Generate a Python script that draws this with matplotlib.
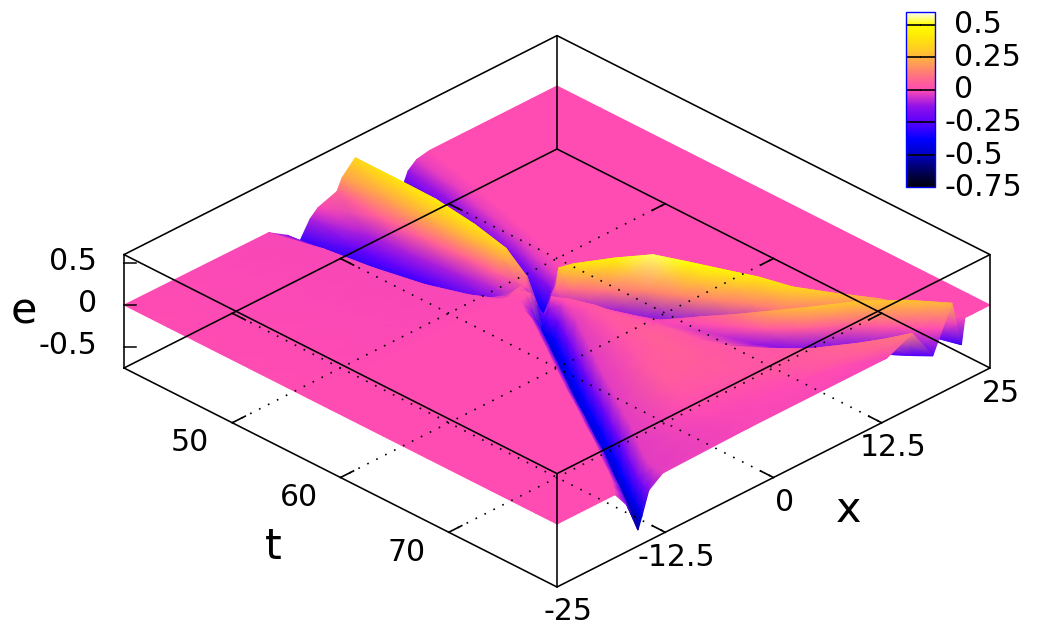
#!/usr/bin/env python
import numpy as np
import matplotlib
matplotlib.use("Agg")
import matplotlib.pyplot as plt
from matplotlib.colors import LinearSegmentedColormap, Normalize

### data: one row per t, knots in x follow the moving features
t_rows = [40, 44, 48, 52, 55, 57, 58, 58.4, 59, 60, 62, 64, 66, 68, 70, 72, 74, 76, 78, 79, 80]

x_knots = [
    [-25, -8.3, -6.2, -4.7, -3.5, -2.6, -0.4, 0.17, 1.7, 3.2, 4.6, 5.3, 6.0, 6.65, 7.3, 7.8, 8.8, 10.3, 14, 25],
    [-25, -7.0, -5.6, -4.0, -3.0, -2.0, -0.8, 0.2, 1.3, 2.6, 3.8, 4.4, 5.0, 5.6, 6.2, 7.0, 8.0, 9.2, 13, 25],
    [-25, -6.3, -4.9, -3.4, -2.6, -1.7, -0.7, 0.1, 0.95, 2.0, 2.8, 3.3, 3.8, 4.4, 5.0, 5.8, 6.8, 7.9, 12, 25],
    [-25, -5.2, -4.0, -2.7, -2.1, -1.3, -0.5, 0.0, 0.5, 1.3, 2.0, 2.45, 2.9, 3.4, 3.9, 4.7, 5.6, 6.6, 11, 25],
    [-25, -3.8, -2.9, -1.9, -1.4, -0.9, -0.4, 0.0, 0.35, 0.9, 1.4, 1.7, 2.0, 2.45, 2.9, 3.6, 4.3, 5.3, 9.5, 25],
    [-25, -2.5, -1.7, -1.0, -0.4, -0.2, 0.0, 0.15, 0.3, 0.7, 1.1, 1.45, 1.8, 2.1, 2.4, 3.0, 3.6, 4.5, 8, 25],
    [-25, -1.8, -1.0, -0.5, -0.1, 0.1, 0.2, 0.3, 0.4, 0.55, 0.7, 0.8, 0.9, 1.15, 1.4, 2.0, 2.6, 3.3, 6.5, 25],
    [-25, -2.0, -0.9, -0.1, 0.2, 0.3, 0.4, 0.45, 0.5, 0.6, 0.7, 0.75, 0.8, 0.95, 1.1, 1.4, 2.0, 2.6, 4.5, 25],
    [-25, -2.5, -1.3, -0.3, 0.0, 0.2, 0.35, 0.5, 0.6, 0.7, 0.8, 0.82, 0.9, 0.95, 1.0, 1.15, 1.45, 2.1, 4.5, 25],
    [-25, -3.0, -1.9, -0.8, -0.4, 0.1, 0.6, 0.8, 1.0, 1.1, 1.2, 1.25, 1.3, 1.37, 1.45, 1.6, 1.9, 2.8, 5, 25],
    [-25, -4.5, -3.4, -2.3, -1.9, -1.3, -0.3, 1.2, 1.7, 1.85, 2.0, 2.1, 2.2, 2.55, 2.9, 3.4, 4.2, 5.5, 8, 25],
    [-25, -6.0, -4.9, -3.8, -3.4, -2.8, -1.8, 0.8, 1.7, 2.3, 2.9, 3.1, 3.3, 4.0, 4.7, 5.3, 6.1, 7.4, 10, 25],
    [-25, -7.5, -6.4, -5.3, -4.9, -4.3, -3.3, 0.0, 1.8, 2.9, 3.7, 4.0, 4.4, 5.2, 6.0, 6.7, 7.7, 9.0, 11.5, 25],
    [-25, -9.0, -7.9, -6.8, -6.4, -5.8, -4.8, -1.0, 1.5, 3.5, 5.1, 5.8, 6.5, 7.05, 7.6, 8.2, 9.1, 10.4, 13, 25],
    [-25, -10.4, -9.3, -8.2, -7.8, -7.2, -6.2, -2.0, 1.0, 4.0, 6.6, 7.3, 8.0, 8.65, 9.3, 9.9, 10.8, 12.1, 14.5, 25],
    [-25, -11.9, -10.8, -9.7, -9.3, -8.7, -7.7, -2.6, 1.0, 5.0, 8.2, 8.75, 9.3, 9.95, 10.6, 11.2, 12.2, 13.5, 16, 25],
    [-25, -13.3, -12.2, -11.1, -10.7, -10.1, -9.1, -3.5, 2.0, 7.0, 10.5, 11.05, 11.6, 12.3, 13.0, 13.6, 14.6, 16.0, 18, 25],
    [-25, -14.9, -13.8, -12.7, -12.3, -11.7, -10.7, -4.0, 2.0, 9.0, 13.5, 14.3, 15.1, 15.5, 15.9, 16.5, 17.2, 18.5, 20, 25],
    [-25, -16.4, -15.3, -14.2, -13.8, -13.2, -12.2, -3.0, 5.0, 12.2, 16.0, 17.0, 18.0, 18.5, 19.0, 19.4, 19.8, 20.6, 22, 25],
    [-25, -17.3, -16.1, -14.9, -14.5, -13.8, -12.6, -2.5, 10.0, 14.0, 17.2, 18.25, 19.3, 19.8, 20.3, 20.7, 20.9, 21.6, 23, 25],
    [-25, -18.3, -16.9, -15.65, -15.2, -14.4, -12.8, -3.0, 13.1, 16.0, 18.4, 19.5, 20.6, 21.15, 21.7, 22.1, 22.4, 23, 24, 25],
]

e_values = [
    [0, -0.01, -0.15, -0.30, -0.095, -0.01, 0.07, 0.20, 0.36, 0.20, -0.05, -0.18, -0.30, -0.28, -0.24, -0.115, -0.03, 0, 0, 0],
    [0, -0.01, -0.15, -0.33, -0.22, -0.10, 0.05, 0.22, 0.40, 0.20, -0.08, -0.20, -0.32, -0.29, -0.25, -0.12, -0.03, 0, 0, 0],
    [0, -0.01, -0.16, -0.36, -0.25, -0.10, 0.06, 0.24, 0.43, 0.20, -0.10, -0.23, -0.36, -0.32, -0.28, -0.13, -0.03, 0, 0, 0],
    [0, -0.01, -0.16, -0.38, -0.27, -0.10, 0.06, 0.24, 0.41, 0.20, -0.10, -0.25, -0.40, -0.35, -0.30, -0.14, -0.03, 0, 0, 0],
    [0, -0.01, -0.12, -0.25, -0.20, -0.08, 0.05, 0.20, 0.33, 0.15, -0.15, -0.30, -0.45, -0.39, -0.33, -0.16, -0.04, 0, 0, 0],
    [0, 0, 0.0, 0.04, 0.05, 0.02, -0.05, 0.0, 0.12, -0.10, -0.40, -0.44, -0.47, -0.40, -0.33, -0.15, -0.04, 0, 0, 0],
    [0, 0, 0.03, 0.03, -0.05, -0.15, -0.15, -0.20, -0.20, -0.30, -0.38, -0.38, -0.38, -0.34, -0.30, -0.12, -0.03, 0, 0, 0],
    [0, 0, -0.12, -0.40, -0.42, -0.38, -0.30, -0.25, -0.25, -0.25, -0.25, -0.24, -0.22, -0.18, -0.15, -0.05, 0, 0, 0, 0],
    [0, 0, -0.17, -0.45, -0.42, -0.25, -0.12, -0.04, 0, -0.02, -0.05, -0.06, -0.08, -0.10, -0.12, 0.05, 0.30, 0.05, 0, 0],
    [0, 0, -0.20, -0.47, -0.38, -0.20, -0.035, 0, 0.02, 0.02, 0, -0.01, -0.03, -0.05, -0.08, 0.10, 0.39, 0.05, 0, 0],
    [0, 0, -0.20, -0.47, -0.38, -0.20, -0.035, 0.02, 0.03, 0.03, 0, -0.01, -0.03, -0.08, -0.13, 0.12, 0.47, 0.10, 0, 0],
    [0, 0, -0.20, -0.48, -0.38, -0.20, -0.035, 0.03, 0.04, 0.03, 0, -0.01, -0.03, -0.10, -0.17, 0.15, 0.54, 0.10, 0, 0],
    [0, 0, -0.20, -0.48, -0.38, -0.20, -0.035, 0.03, 0.05, 0.03, 0, -0.01, -0.02, -0.09, -0.16, 0.15, 0.50, 0.10, 0, 0],
    [0, 0, -0.20, -0.48, -0.38, -0.20, -0.035, 0.03, 0.06, 0.04, -0.03, 0, 0.04, -0.04, -0.14, 0.15, 0.47, 0.10, 0, 0],
    [0, 0, -0.20, -0.48, -0.38, -0.20, -0.035, 0.04, 0.06, 0.03, -0.06, 0.02, 0.12, 0.02, -0.12, 0.14, 0.42, 0.08, 0, 0],
    [0, 0, -0.20, -0.48, -0.38, -0.20, -0.035, 0.05, 0.05, 0.03, -0.12, 0.04, 0.22, 0.03, -0.10, 0.12, 0.36, 0.06, 0, 0],
    [0, 0, -0.20, -0.48, -0.38, -0.20, -0.035, 0.03, 0.04, 0.03, -0.18, 0.05, 0.28, 0.06, -0.10, 0.08, 0.29, 0.05, 0, 0],
    [0, 0, -0.20, -0.50, -0.38, -0.20, -0.035, 0.0, 0.02, 0.05, -0.20, 0.05, 0.30, 0.08, -0.10, 0.06, 0.22, 0.04, 0, 0],
    [0, 0, -0.20, -0.52, -0.40, -0.20, -0.035, -0.01, 0.0, 0.08, -0.25, 0.02, 0.29, 0.07, -0.15, 0.0, 0.10, 0.02, 0, 0],
    [0, 0, -0.20, -0.54, -0.42, -0.20, -0.035, -0.01, 0.0, 0.10, -0.26, 0, 0.27, 0.03, -0.22, -0.03, 0.05, 0, 0, 0],
    [0, 0, -0.20, -0.56, -0.42, -0.15, -0.03, -0.01, -0.01, 0.13, -0.26, 0, 0.25, -0.03, -0.30, 0, 0, 0, 0, 0],
]

t_ticks = [50, 60, 70]
x_ticks = [-25, -12.5, 0, 12.5, 25]
t_tick_labels = ["50", "60", "70"]
x_tick_labels = ["-25", "-12.5", "0", "12.5", "25"]
e_ticks = [-0.5, 0, 0.5]
e_tick_labels = ["-0.5", "0", "0.5"]
cb_ticks = [0.5, 0.25, 0, -0.25, -0.5, -0.75]
cb_tick_labels = ["0.5", "0.25", "0", "-0.25", "-0.5", "-0.75"]

### view: gnuplot style 60,45 on a 1038x634 canvas
T0, T1 = 40, 80
X0, X1 = -25, 25
E0, E1 = -0.75, 0.6
LEFT, BOTTOM = 124, 368
HALF_W, HALF_H, BOX_H = 433, 219, 113.4


def project(x, t, e):
    fx = (np.asarray(x, dtype=float) - X0) / (X1 - X0)
    ft = (np.asarray(t, dtype=float) - T0) / (T1 - T0)
    fe = (np.asarray(e, dtype=float) - E0) / (E1 - E0)
    return LEFT + HALF_W * (fx + ft), BOTTOM + HALF_H * (ft - fx) - BOX_H * fe


palette = LinearSegmentedColormap.from_list("pal", [
    (0.0, "#000008"),
    (0.11, "#000070"),
    (0.19, "#0000c8"),
    (0.27, "#0000ff"),
    (0.37, "#5a00ff"),
    (0.46, "#9010e8"),
    (0.51, "#cc30cc"),
    (0.555, "#ff4bb4"),
    (0.63, "#ff6e86"),
    (0.70, "#ff9a58"),
    (0.78, "#ffc828"),
    (0.86, "#ffe808"),
    (0.93, "#ffff00"),
    (1.0, "#ffffff"),
])
norm = Normalize(E0, E1)

fig = plt.figure(figsize=(10.38, 6.34), dpi=100)
ax = fig.add_axes([0, 0, 1, 1])
ax.set_xlim(0, 1038)
ax.set_ylim(634, 0)
ax.axis("off")

### surface, drawn far to near
T = np.array([[t] * len(x_knots[0]) for t in t_rows])
X = np.array(x_knots)
E = np.array(e_values)
sx, sy = project(X, T, E)
mesh = ax.pcolormesh(sx[:, ::-1], sy[:, ::-1], E[:, ::-1], shading="gouraud",
                     cmap=palette, norm=norm, zorder=2)

### base grid, on top of the surface
for t in t_ticks:
    px, py = project([X0, X1], [t, t], [E0, E0])
    ax.plot(px, py, color="k", lw=1.2, ls=(0, (1, 5)), zorder=3)
    qx, qy = project([X0, X0 + 1.5], [t, t], [E0, E0])
    ax.plot(qx, qy, color="k", lw=1.2, zorder=4)
    qx, qy = project([X1, X1 - 1.5], [t, t], [E0, E0])
    ax.plot(qx, qy, color="k", lw=1.2, zorder=4)
for x in x_ticks[1:-1]:
    px, py = project([x, x], [T0, T1], [E0, E0])
    ax.plot(px, py, color="k", lw=1.2, ls=(0, (1, 5)), zorder=3)
    qx, qy = project([x, x], [T1, T1 - 1.2], [E0, E0])
    ax.plot(qx, qy, color="k", lw=1.2, zorder=4)
    qx, qy = project([x, x], [T0, T0 + 1.2], [E0, E0])
    ax.plot(qx, qy, color="k", lw=1.2, zorder=4)

### box
for e in (E0, E1):
    px, py = project([X0, X1, X1, X0, X0], [T0, T0, T1, T1, T0], [e] * 5)
    ax.plot(px, py, color="k", lw=1.15, zorder=5)
for x, t in ((X0, T0), (X1, T0), (X0, T1), (X1, T1)):
    px, py = project([x, x], [t, t], [E0, E1])
    ax.plot(px, py, color="k", lw=1.15, zorder=5)

### tick labels
font = dict(fontsize=21.5, color="k", family="DejaVu Sans", zorder=6)
for e, lab in zip(e_ticks, e_tick_labels):
    px, py = project([X0, X0 + 1.5], [T0, T0 + 1.2], [e, e])
    ax.plot([px[0], px[0] + 12], [py[0], py[0]], color="k", lw=1.1, zorder=5)
    ax.text(px[0] - 27, py[0] - 1, lab, ha="right", va="center", **font)
for t, lab in zip(t_ticks, t_tick_labels):
    px, py = project(X0, t, E0)
    ax.text(px - 42, py + 20, lab, ha="center", va="center", **font)
for x, lab in zip(x_ticks, x_tick_labels):
    px, py = project(x, T1, E0)
    ax.text(px + 11, py + 25, lab, ha="center", va="center", **font)

ax.text(24, 312, "e", ha="center", va="center", fontsize=31, family="DejaVu Sans")
ax.text(273, 547, "t", ha="center", va="center", fontsize=31, family="DejaVu Sans")
ax.text(849, 510, "x", ha="center", va="center", fontsize=31, family="DejaVu Sans")

### colour box
cax = fig.add_axes([906 / 1038, 1 - 187 / 634, 29 / 1038, 175 / 634])
cb = fig.colorbar(mesh, cax=cax)
cb.outline.set_edgecolor("#0000ff")
cb.outline.set_linewidth(1.0)
cb.set_ticks(cb_ticks)
cax.tick_params(left=True, right=True, direction="in", length=11, width=1.2,
                labelleft=False, labelright=False, color="k")
for v, lab in zip(cb_ticks, cb_tick_labels):
    left = 944 if lab.startswith("-") else 954
    py = 187 - (v - E0) * 131
    ax.text(left, py + 1, lab, ha="left", va="center", **font)

fig.savefig("out.png", dpi=100)
